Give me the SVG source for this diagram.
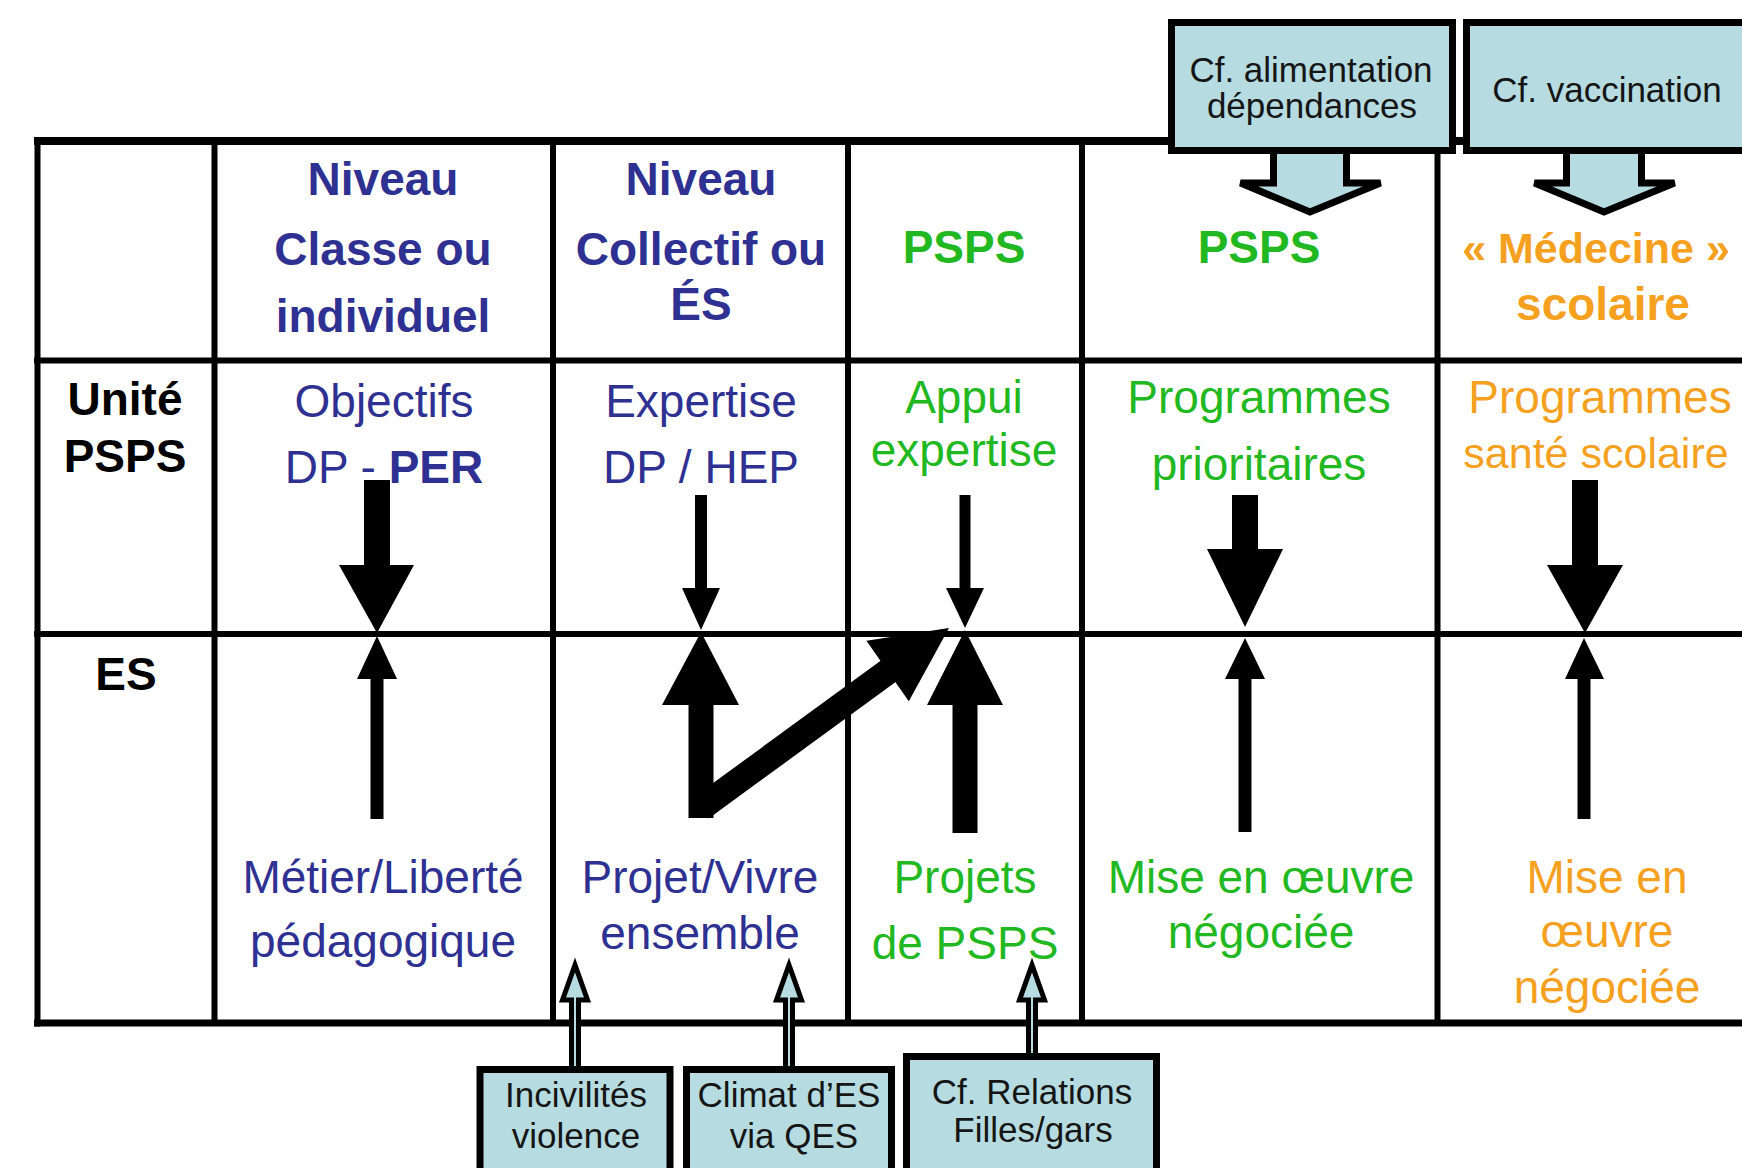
<svg xmlns="http://www.w3.org/2000/svg" width="1742" height="1168" viewBox="0 0 1742 1168">
<style>
.t{font-family:"Liberation Sans",Arial,Helvetica,sans-serif;font-size:46px;text-anchor:middle}
.b{font-weight:bold}
.blue{fill:#2e3192}.green{fill:#22b822}.orange{fill:#f5a01f}.blk{fill:#000}
.c{font-family:"Liberation Sans",Arial,Helvetica,sans-serif;font-size:35px;text-anchor:middle;fill:#151515}
.grid{stroke:#000;stroke-width:6;fill:none}
.callout{fill:#b6dce2;stroke:#000;stroke-width:7;stroke-linejoin:miter}
.hollow{fill:#b6dce2;stroke:#000;stroke-width:5;stroke-linejoin:miter}
.arr{fill:#000}
</style>
<rect width="1742" height="1168" fill="#fff"/>
<g id="table">
<line class="grid" x1="34" y1="141" x2="1742" y2="141" style="stroke-width:8"/>
<line class="grid" x1="34" y1="360.5" x2="1742" y2="360.5"/>
<line class="grid" x1="34" y1="634" x2="1742" y2="634"/>
<line class="grid" x1="34" y1="1023" x2="1742" y2="1023" style="stroke-width:7"/>
<line class="grid" x1="37.5" y1="137" x2="37.5" y2="1026.5"/>
<line class="grid" x1="214.5" y1="141" x2="214.5" y2="1023"/>
<line class="grid" x1="553" y1="141" x2="553" y2="1023"/>
<line class="grid" x1="848" y1="141" x2="848" y2="1023"/>
<line class="grid" x1="1082" y1="141" x2="1082" y2="1023"/>
<line class="grid" x1="1437.5" y1="141" x2="1437.5" y2="1023"/>
</g>
<g id="header">
<text class="t b blue" x="383" y="195">Niveau</text>
<text class="t b blue" x="383" y="265">Classe ou</text>
<text class="t b blue" x="383" y="332">individuel</text>
<text class="t b blue" x="701" y="195">Niveau</text>
<text class="t b blue" x="701" y="265">Collectif ou</text>
<text class="t b blue" x="701" y="320">ÉS</text>
<text class="t b green" x="964" y="263">PSPS</text>
<text class="t b green" x="1259" y="263">PSPS</text>
<text class="t b orange" x="1596" y="263" style="font-size:43px">« Médecine »</text>
<text class="t b orange" x="1603" y="320">scolaire</text>
</g>
<g id="row-unite">
<text class="t b blk" x="125" y="415">Unité</text>
<text class="t b blk" x="125" y="472">PSPS</text>
<text class="t blue" x="384" y="417">Objectifs</text>
<text class="t blue" x="384" y="483">DP - <tspan class="b">PER</tspan></text>
<text class="t blue" x="701" y="417">Expertise</text>
<text class="t blue" x="701" y="483">DP / HEP</text>
<text class="t green" x="964" y="413">Appui</text>
<text class="t green" x="964" y="466">expertise</text>
<text class="t green" x="1259" y="413">Programmes</text>
<text class="t green" x="1259" y="480">prioritaires</text>
<text class="t orange" x="1600" y="413">Programmes</text>
<text class="t orange" x="1596" y="468" style="font-size:43px">santé scolaire</text>
</g>
<g id="row-es">
<text class="t b blk" x="126" y="690">ES</text>
<text class="t blue" x="383" y="893">Métier/Liberté</text>
<text class="t blue" x="383" y="957">pédagogique</text>
<text class="t blue" x="700" y="893">Projet/Vivre</text>
<text class="t blue" x="700" y="949">ensemble</text>
<text class="t green" x="965" y="893">Projets</text>
<text class="t green" x="965" y="959">de PSPS</text>
<text class="t green" x="1261" y="893">Mise en œuvre</text>
<text class="t green" x="1261" y="948">négociée</text>
<text class="t orange" x="1607" y="893">Mise en</text>
<text class="t orange" x="1607" y="947">œuvre</text>
<text class="t orange" x="1607" y="1003">négociée</text>
</g>
<g id="connectors">
<path class="arr" d="M364,480 H390 V565 H414 L377,633 L339,565 H364 Z"/>
<path class="arr" d="M695,495 H707 V588 H720 L701,630 L682,588 H695 Z"/>
<path class="arr" d="M959.5,495 H970.5 V588 H984 L965,628 L946,588 H959.5 Z"/>
<path class="arr" d="M1232,495 H1258 V549 H1283 L1245,627 L1207,549 H1232 Z"/>
<path class="arr" d="M1572,480 H1598 V565 H1623 L1585,633 L1547,565 H1572 Z"/>
<path class="arr" d="M370.5,819 V679 H357 L377,636 L397,679 H383.5 V819 Z"/>
<path class="arr" d="M688.5,818 V705 H662 L701,632 L739,705 H713.5 V818 Z"/>
<path class="arr" d="M952.5,833 V705 H927 L965,630 L1003,705 H977.5 V833 Z"/>
<path class="arr" d="M1238.5,832 V679 H1225 L1245,638 L1265,679 H1251.5 V832 Z"/>
<path class="arr" d="M1577.5,819 V679 H1565 L1584,638 L1604,679 H1590.5 V819 Z"/>
<line x1="701" y1="808" x2="890" y2="670" stroke="#000" stroke-width="26"/>
<polygon class="arr" points="949,628 908.8,701.3 866.4,640.7"/>
<path class="callout" d="M1273.5,150 H1346.5 V183 H1380.5 L1310,212 L1240.5,183 H1273.5 Z"/>
<path class="callout" d="M1566.5,150 H1641.5 V183 H1674.5 L1604,212 L1534.5,183 H1566.5 Z"/>
<path class="hollow" d="M571.5,1069.5 V1000 H562.5 L575,965 L587.5,1000 H578.5 V1069.5 Z"/>
<path class="hollow" d="M785.5,1069.5 V1000 H776.5 L789,965 L801.5,1000 H792.5 V1069.5 Z"/>
<path class="hollow" d="M1028.5,1056.5 V1000 H1019.5 L1032,965 L1044.5,1000 H1035.5 V1056.5 Z"/>
</g>
<g id="callout-alimentation">
<rect class="callout" x="1171.5" y="22.5" width="281" height="128"/>
<text class="c" x="1311" y="82">Cf. alimentation</text>
<text class="c" x="1312" y="118">dépendances</text>
</g>
<g id="callout-vaccination">
<rect class="callout" x="1466.5" y="22.5" width="300" height="128"/>
<text class="c" x="1607" y="102">Cf. vaccination</text>
</g>
<g id="callout-incivilites">
<rect class="callout" x="480" y="1069.5" width="190" height="120"/>
<text class="c" x="576" y="1107">Incivilités</text>
<text class="c" x="576" y="1148">violence</text>
</g>
<g id="callout-climat">
<rect class="callout" x="686.5" y="1069.5" width="205" height="120"/>
<text class="c" x="789" y="1107">Climat d’ES</text>
<text class="c" x="794" y="1148">via QES</text>
</g>
<g id="callout-relations">
<rect class="callout" x="906.5" y="1056.5" width="250" height="130"/>
<text class="c" x="1032" y="1104">Cf. Relations</text>
<text class="c" x="1033" y="1142">Filles/gars</text>
</g>
</svg>
